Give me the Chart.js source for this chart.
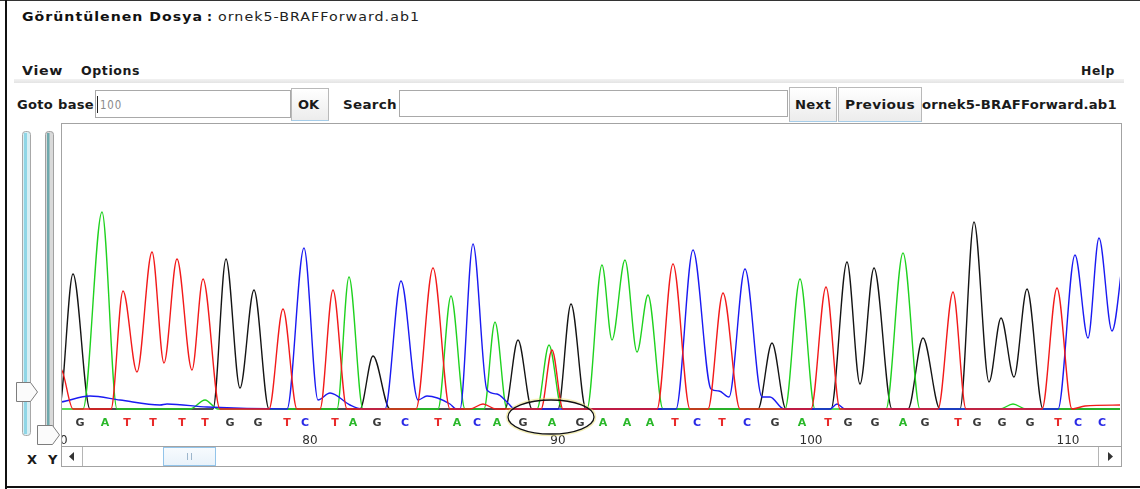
<!DOCTYPE html>
<html>
<head>
<meta charset="utf-8">
<title>Kromatogram</title>
<script src="https://cdn.jsdelivr.net/npm/chart.js@4.4.1/dist/chart.umd.min.js"></script>
<style>
  html, body { margin: 0; padding: 0; background: #fff; }
  body { width: 1140px; height: 489px; position: relative; overflow: hidden;
         font-family: "DejaVu Sans", sans-serif; color: #111; }
  .abs { position: absolute; white-space: nowrap; line-height: 1; }
  .fit { transform-origin: 0 50%; }
  .frameL { position: absolute; left: 5px; top: 0; width: 2px; height: 489px; background: #111; }
  .frameB { position: absolute; left: 5px; top: 486px; width: 1135px; height: 2px; background: #111; }
  .frameT { position: absolute; left: 0; top: 0; width: 1140px; height: 1px; background: #333; }
  .title-b { font-weight: bold; font-size: 12.5px; }
  .title-n { font-size: 12.5px; color: #222; }
  .menu { font-weight: bold; font-size: 13px; color: #1a1a1a; }
  .menubar { position: absolute; left: 14px; top: 79px; width: 1110px; height: 4px;
             background: linear-gradient(#f2f2f2, #e4e4e4); }
  .field { position: absolute; border: 1px solid #a9a9a9; background: #fff; box-sizing: border-box; }
  .btn { position: absolute; box-sizing: border-box; border: 1px solid #b9b9b9;
         border-bottom-color: #a6cde9; background: linear-gradient(#ffffff, #ececec); }
  .panel { position: absolute; left: 61px; top: 123px; width: 1061px; height: 344px;
           border: 1px solid #a3a3a3; box-sizing: border-box; }
  #plotWrap { position: absolute; left: 62px; top: 124px; width: 1058px; height: 322px; overflow: hidden; }
  #plotWrap canvas { position: absolute; left: -22px; top: 0; }
  .scroll { position: absolute; left: 62px; top: 446px; width: 1059px; height: 20px;
            border-top: 1px solid #a3a3a3; box-sizing: border-box; background: #fff; }
</style>
</head>
<body>
<div class="frameT"></div>
<div class="frameL"></div>
<div class="frameB"></div>

<!-- file header -->
<div class="abs title-b fit" data-w="181" data-ls="0.9" style="left:22px; top:11px;">Görüntülenen Dosya</div>
<div class="abs title-b" style="left:207px; top:11px;">:</div>
<div class="abs title-n fit" data-w="202" data-ls="0.9" style="left:218px; top:11px;">ornek5-BRAFForward.ab1</div>

<!-- menu -->
<div class="abs menu fit" data-w="41" data-ls="0.6" style="left:22px; top:64px;">View</div>
<div class="abs menu fit" data-w="59" data-ls="0.6" style="left:81px; top:64px;">Options</div>
<div class="abs menu fit" data-w="34" data-ls="0.6" style="left:1081px; top:64px;">Help</div>
<div class="menubar"></div>

<!-- navigation toolbar -->
<div class="abs menu fit" data-w="77" data-ls="0.3" style="left:17px; top:98px;">Goto base</div>
<div class="field" style="left:95px; top:90px; width:196px; height:28px;"></div>
<div class="abs" style="left:97px; top:96px; width:1px; height:17px; background:#222;"></div>
<div class="abs fit" data-w="22" data-ls="1" style="left:100px; top:99px; font-size:12px; color:#8a8a8a;">100</div>
<div class="btn" style="left:291px; top:88px; width:38px; height:33px;"></div>
<div class="abs menu" style="left:298px; top:98px;">OK</div>
<div class="abs menu fit" data-w="54" data-ls="0.3" style="left:343px; top:98px;">Search</div>
<div class="field" style="left:399px; top:90px; width:389px; height:27px;"></div>
<div class="btn" style="left:789px; top:87px; width:48px; height:35px;"></div>
<div class="abs menu fit" data-w="36" data-ls="0.3" style="left:795px; top:98px;">Next</div>
<div class="btn" style="left:838px; top:87px; width:84px; height:35px;"></div>
<div class="abs menu fit" data-w="70" data-ls="0.3" style="left:845px; top:98px;">Previous</div>
<div class="abs menu fit" data-w="195" data-ls="0.2" style="left:922px; top:98px;">ornek5-BRAFForward.ab1</div>

<!-- zoom sliders -->
<svg class="abs" style="left:0; top:120px;" width="62" height="340">
  <rect x="22.5" y="11.5" width="8" height="304" rx="3" fill="#d8eef3" stroke="#a8a8a8"/>
  <rect x="24" y="13" width="3" height="301" fill="#8fd6e6"/>
  <rect x="45.5" y="11.5" width="8" height="301" rx="3" fill="#d9d9d9" stroke="#a0a0a0"/>
  <rect x="47" y="13" width="2.5" height="298" fill="#6fa9ad"/>
  <path d="M16.5 262.5 H30.5 L37.5 272 L30.5 281.5 H16.5 Z" fill="#fbfbfb" stroke="#7d7d7d"/>
  <path d="M37.5 305.5 H52.5 L59.5 315 L52.5 324.5 H37.5 Z" fill="#fbfbfb" stroke="#7d7d7d"/>
</svg>
<div class="abs menu" style="left:27px; top:453px;">X</div>
<div class="abs menu" style="left:48px; top:453px;">Y</div>

<!-- chart panel -->
<div class="panel"></div>
<div id="plotWrap"><canvas id="trace" width="1080" height="322"></canvas></div>

<!-- horizontal scrollbar -->
<div class="scroll">
  <div class="abs" style="left:20px; top:0; width:1px; height:19px; background:#b5b5b5;"></div>
  <svg class="abs" style="left:7px; top:5px;" width="6" height="9"><path d="M5 0 V9 L0 4.5 Z" fill="#333"/></svg>
  <div class="abs" style="left:101px; top:0; width:53px; height:19px; box-sizing:border-box; border:1px solid #92c4ea; background:linear-gradient(#f7fbfe,#e9f2fa);"></div>
  <div class="abs" style="left:125px; top:6px; width:1px; height:7px; background:#9db6cc;"></div>
  <div class="abs" style="left:129px; top:6px; width:1px; height:7px; background:#9db6cc;"></div>
  <div class="abs" style="left:1036px; top:0; width:1px; height:19px; background:#b5b5b5;"></div>
  <svg class="abs" style="left:1046px; top:5px;" width="6" height="9"><path d="M0 0 V9 L5 4.5 Z" fill="#333"/></svg>
</div>

<script>
// ---- base calls (letters) and their scan positions ----
const baseLetters = ['G','A','T','T','T','T','G','G','T','C','T','A','G','C','T','A','C','A','G','A','G',
                     'A','A','A','T','C','T','C','G','A','T','G','G','A','G','T','G','G','G','T','C','C'];
const basePositions = [80,105,127,153,182,205,230,258,287,305,335,353,377,405,438,457,477,497,523,552,580,
                       603,627,650,675,697,722,747,775,802,828,848,875,903,925,958,977,1002,1030,1058,1078,1102];

// ---- base numbering ----
const baseNumbers = ['70','80','90','100','110'];
const baseNumberPositions = [60,310,558,811,1068];

// ---- trace vertices per channel: scan position / signal ----
const traceT_x = [40,61,73,111,123,137,152,164,177,192,203,220,269,283,297,320,333,347,416,433,450,470,483,496,
                  541,552,563,657,673,690,708,723,740,811,826,840,938,953,966,1042,1057,1072,1085,1122];
const traceT_y = [44,40,0,0,118,37,157,46,150,39,130,0,0,100,0,0,119,0,0,141,0,0,5,0,
                  0,59,0,0,145,0,0,116,0,0,122,0,0,117,0,0,121,0,3,4];

const traceC_x = [40,61,90,120,160,167,207,287,304,318,330,350,362,385,401,418,427,450,456,460,473,487,497,507,515,
                  676,693,711,719,729,745,762,770,784,830,837,845,1058,1075,1088,1099,1112,1124];
const traceC_y = [5,7,13,9,4,5,2,0,161,9,16,4,0,0,128,9,13,5,0,0,165,19,15,7,0,
                  0,159,20,18,12,140,12,12,0,0,5,0,0,154,71,171,78,160];

const traceA_x = [40,83,102,117,190,205,218,337,349,363,438,451,465,484,495,507,537,549,562,
                  587,602,612,625,637,648,663,785,800,815,886,903,920,1000,1013,1026,1122];
const traceA_y = [0,0,197,0,0,9,0,0,132,0,0,113,0,0,87,0,0,64,0,
                  0,144,69,149,57,114,0,0,130,0,0,156,0,0,5,0,0];

const traceG_x = [40,59,73,90,213,226,240,254,269,360,373,390,505,518,532,558,571,586,758,772,786,
                  831,847,860,874,892,908,923,940,960,974,989,1001,1014,1027,1043,1122];
const traceG_y = [0,0,135,0,0,150,21,119,0,0,53,0,0,69,0,0,105,0,0,66,0,
                  0,147,25,141,0,0,71,0,0,187,27,91,32,120,0,0];

// ---- colours ----
const channelColors = { A: '#1fd21f', C: '#1a1af2', G: '#141414', T: '#f21a1a' };
const letterColors  = { A: '#2bb82b', C: '#2a2ae6', G: '#3a3a3a', T: '#e82a2a' };

// outline drawn around the called codon
const codonOutline = { center: 551, dy: 6, rx: 43, ry: 17 };

const toPoints = (xs, ys) => xs.map((x, i) => ({ x, y: ys[i] }));

const traceDataset = (label, xs, ys, color) => ({
  label,
  data: toPoints(xs, ys),
  borderColor: color,
  borderWidth: 1.4,
  pointRadius: 0,
  fill: false,
  cubicInterpolationMode: 'monotone'
});

const codonPlugin = {
  id: 'codonOutline',
  afterDraw(chart) {
    const xs = chart.scales.x;
    const cx = xs.getPixelForValue(codonOutline.center);
    const cy = xs.top + codonOutline.dy;
    const ctx = chart.ctx;
    ctx.save();
    ctx.beginPath();
    ctx.ellipse(cx, cy, codonOutline.rx + 1.5, codonOutline.ry + 1.5, 0, 0, Math.PI * 2);
    ctx.strokeStyle = 'rgba(235,225,120,0.55)';
    ctx.lineWidth = 1.5;
    ctx.stroke();
    ctx.beginPath();
    ctx.ellipse(cx, cy, codonOutline.rx, codonOutline.ry, 0, 0, Math.PI * 2);
    ctx.strokeStyle = '#111';
    ctx.lineWidth = 1.3;
    ctx.stroke();
    ctx.restore();
  }
};

new Chart(document.getElementById('trace'), {
  type: 'line',
  data: {
    datasets: [
      traceDataset('T', traceT_x, traceT_y, channelColors.T),
      traceDataset('C', traceC_x, traceC_y, channelColors.C),
      traceDataset('A', traceA_x, traceA_y, channelColors.A),
      traceDataset('G', traceG_x, traceG_y, channelColors.G)
    ]
  },
  options: {
    responsive: false,
    animation: false,
    devicePixelRatio: 1,
    layout: { padding: 0 },
    plugins: { legend: { display: false }, tooltip: { enabled: false } },
    scales: {
      x: {
        type: 'linear', position: 'bottom', min: 40, max: 1120, weight: 0,
        grid: { display: false, drawTicks: false },
        border: { display: false },
        afterBuildTicks: (scale) => { scale.ticks = basePositions.map(v => ({ value: v })); },
        afterFit: (scale) => { scale.height = 23; },
        ticks: {
          autoSkip: false, maxRotation: 0, minRotation: 0, padding: 6,
          font: { family: '"DejaVu Sans", sans-serif', size: 11, weight: 'bold' },
          color: (ctx) => letterColors[baseLetters[ctx.index]],
          callback: (value, index) => baseLetters[index]
        }
      },
      x2: {
        type: 'linear', position: 'bottom', min: 40, max: 1120, weight: 1,
        grid: { display: false, drawTicks: false },
        border: { display: false },
        afterBuildTicks: (scale) => { scale.ticks = baseNumberPositions.map(v => ({ value: v })); },
        afterFit: (scale) => { scale.height = 12; },
        ticks: {
          autoSkip: false, maxRotation: 0, minRotation: 0, padding: 0,
          font: { family: '"DejaVu Sans", sans-serif', size: 12 },
          color: '#2e2e2e',
          callback: (value, index) => baseNumbers[index]
        }
      },
      y: { display: false, min: -2, max: 285 }
    }
  },
  plugins: [codonPlugin]
});

// stretch the interface labels to their widths
document.querySelectorAll('.fit').forEach(el => {
  el.style.letterSpacing = (el.dataset.ls || 0) + 'px';
  const w = el.getBoundingClientRect().width;
  el.style.transform = 'scaleX(' + (parseFloat(el.dataset.w) / w).toFixed(3) + ')';
});
</script>
</body>
</html>
